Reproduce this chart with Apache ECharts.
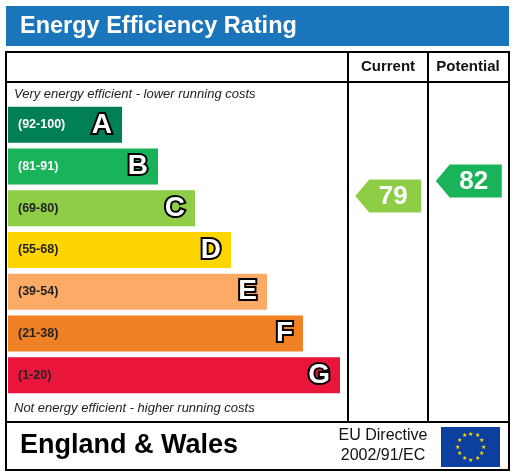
<!DOCTYPE html>
<html>
<head>
<meta charset="utf-8">
<script src="https://cdn.jsdelivr.net/npm/echarts@6/dist/echarts.min.js"></script>
<style>
  html, body { margin: 0; padding: 0; background: #fff; }
  #chart { width: 514px; height: 475px; }
</style>
</head>
<body>
<div id="chart"></div>
<script>
(function () {

    var BANDS = ['A', 'B', 'C', 'D', 'E', 'F', 'G'];
    var RANGES = ['(92-100)', '(81-91)', '(69-80)', '(55-68)', '(39-54)', '(21-38)', '(1-20)'];
    var BAND_LENGTH = [114, 150, 187, 223, 259, 295, 332];
    var BAND_COLORS = ['#008054', '#19b459', '#8dce46', '#ffd500', '#fcaa65', '#ef8023', '#e9153b'];
    var RANGE_TEXT = ['#fff', '#fff', '#222', '#222', '#222', '#222', '#222'];

    var COLUMNS = ['Current', 'Potential'];
    var RATINGS = [79, 82];
    var RATING_BANDS = ['C', 'B'];

    var FONT = 'Liberation Sans, Arial, sans-serif';

    var chart = echarts.init(document.getElementById('chart'));

    //
    var barData = BAND_LENGTH.map(function (v, i) {
        return {
            value: v,
            itemStyle: { color: BAND_COLORS[i] },
            label: { color: RANGE_TEXT[i] }
        };
    });

    //
    var arrowData = RATINGS.map(function (r, i) {
        return [COLUMNS[i], r, BAND_COLORS[BANDS.indexOf(RATING_BANDS[i])]];
    });

    function renderArrow(params, api) {
        var p = api.coord([api.value(0), api.value(1)]);
        var w = 66, h = 33, tip = 14;
        var l = p[0] - w / 2, r = p[0] + w / 2;
        return {
            type: 'group',
            children: [{
                type: 'polygon',
                shape: { points: [[l, p[1]], [l + tip, p[1] - h / 2], [r, p[1] - h / 2], [r, p[1] + h / 2], [l + tip, p[1] + h / 2]] },
                style: { fill: api.value(2) }
            }, {
                type: 'text',
                style: {
                    x: p[0] + 5, y: p[1] + 1, text: String(api.value(1)),
                    fill: '#fff', font: 'bold 26px ' + FONT, align: 'center', verticalAlign: 'middle'
                }
            }]
        };
    }

    var option = {
        animation: false,
        grid: [
            { left: 8, top: 104, width: 332, height: 292 },
            { left: 348, top: 105, width: 161, height: 288 }
        ],
        xAxis: [
            { gridIndex: 0, type: 'value', min: 0, max: 332, show: false },
            { gridIndex: 1, type: 'category', data: COLUMNS, show: false }
        ],
        yAxis: [
            { gridIndex: 0, type: 'category', data: BANDS, inverse: true, show: false },
            { gridIndex: 1, type: 'value', min: 39.6, max: 97.2, show: false }
        ],
        graphic: [
            { type: 'rect', shape: { x: 6, y: 6, width: 503, height: 40 }, style: { fill: '#1a75bb' } },
            { type: 'text', style: { x: 20, y: 27, text: 'Energy Efficiency Rating', fill: '#fff', font: 'bold 23.5px ' + FONT, verticalAlign: 'middle' } },
            { type: 'rect', shape: { x: 6, y: 52, width: 503, height: 418 }, style: { fill: 'none', stroke: '#000', lineWidth: 2 } },
            { type: 'line', shape: { x1: 6, y1: 82, x2: 509, y2: 82 }, style: { stroke: '#000', lineWidth: 2 } },
            { type: 'line', shape: { x1: 6, y1: 422, x2: 509, y2: 422 }, style: { stroke: '#000', lineWidth: 2 } },
            { type: 'line', shape: { x1: 348, y1: 52, x2: 348, y2: 422 }, style: { stroke: '#000', lineWidth: 2 } },
            { type: 'line', shape: { x1: 428, y1: 52, x2: 428, y2: 422 }, style: { stroke: '#000', lineWidth: 2 } },
            { type: 'text', style: { x: 388, y: 67, text: 'Current', fill: '#111', font: 'bold 15px ' + FONT, align: 'center', verticalAlign: 'middle' } },
            { type: 'text', style: { x: 468, y: 67, text: 'Potential', fill: '#111', font: 'bold 15px ' + FONT, align: 'center', verticalAlign: 'middle' } },
            { type: 'text', style: { x: 14, y: 94, text: 'Very energy efficient - lower running costs', fill: '#222', font: 'italic 13px ' + FONT, verticalAlign: 'middle' } },
            { type: 'text', style: { x: 14, y: 408, text: 'Not energy efficient - higher running costs', fill: '#222', font: 'italic 13px ' + FONT, verticalAlign: 'middle' } },
            { type: 'text', style: { x: 20, y: 446, text: 'England & Wales', fill: '#000', font: 'bold 27px ' + FONT, verticalAlign: 'middle' } },
            { type: 'text', style: { x: 383, y: 436, text: 'EU Directive', fill: '#111', font: '16px ' + FONT, align: 'center', verticalAlign: 'middle' } },
            { type: 'text', style: { x: 383, y: 456, text: '2002/91/EC', fill: '#111', font: '16px ' + FONT, align: 'center', verticalAlign: 'middle' } },
            { type: 'rect', shape: { x: 441, y: 427, width: 59, height: 40 }, style: { fill: '#0d3f9e' } },
            { type: 'group', children: (function () {
                var stars = [];
                for (var i = 0; i < 12; i++) {
                    var a = i * Math.PI / 6;
                    stars.push({ type: 'text', style: { x: 470.5 + 13 * Math.sin(a), y: 447 - 13 * Math.cos(a), text: '★', fill: '#ffdd00', font: '6px ' + FONT, align: 'center', verticalAlign: 'middle' } });
                }
                return stars;
            })() }
        ],
        series: [{
            type: 'bar',
            xAxisIndex: 0, yAxisIndex: 0,
            barWidth: 36,
            data: barData,
            label: {
                show: true,
                position: 'insideLeft',
                distance: 10,
                formatter: function (p) { return RANGES[p.dataIndex]; },
                fontFamily: FONT,
                fontWeight: 'bold',
                fontSize: 12.5
            },
            silent: true
        }, {
            type: 'bar',
            xAxisIndex: 0, yAxisIndex: 0,
            barWidth: 36,
            barGap: '-100%',
            data: BAND_LENGTH,
            itemStyle: { color: 'rgba(0,0,0,0)' },
            label: {
                show: true,
                position: 'insideRight',
                distance: 10,
                formatter: function (p) { return BANDS[p.dataIndex]; },
                color: '#fff',
                fontFamily: FONT,
                fontWeight: 'bold',
                fontSize: 28,
                textBorderColor: '#000',
                textBorderWidth: 4
            },
            silent: true
        }, {
            type: 'custom',
            xAxisIndex: 1, yAxisIndex: 1,
            renderItem: renderArrow,
            data: arrowData,
            silent: true
        }]
    };

    chart.setOption(option);

}());
</script>
</body>
</html>
